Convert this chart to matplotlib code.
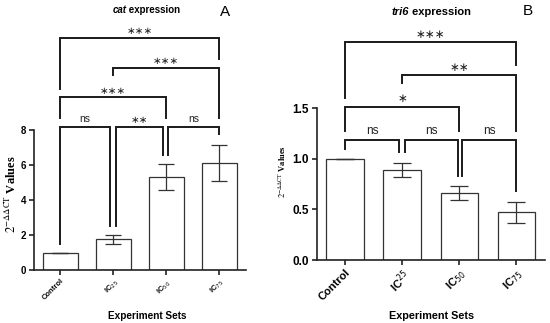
import numpy as np
import matplotlib
matplotlib.use('Agg')
import matplotlib.pyplot as plt

plt.rcParams['font.family'] = ['Liberation Sans', 'DejaVu Sans']

# --- data -------------------------------------------------------------
groups_a = ['Control', r'IC$_{25}$', r'IC$_{50}$', r'IC$_{75}$']
cat_mean = [1.0, 1.77, 5.30, 6.13]
cat_sem = [0.0, 0.26, 0.75, 1.05]

groups_b = ['Control', r'IC$^{25}$', r'IC$_{50}$', r'IC$_{75}$']
tri6_mean = [1.0, 0.89, 0.665, 0.47]
tri6_sem = [0.0, 0.073, 0.07, 0.10]

# comparisons: (left bar, right bar, label)
cmp_a = [(0, 1, 'ns'), (1, 2, '**'), (2, 3, 'ns'),
         (0, 2, '***'), (1, 3, '***'), (0, 3, '***')]
cmp_b = [(0, 1, 'ns'), (1, 2, 'ns'), (2, 3, 'ns'),
         (0, 2, '*'), (1, 3, '**'), (0, 3, '***')]

# bracket geometry (x0, x1, top, left foot, right foot) in data units
geom_a = [(-0.01, 0.94, 8.17, 1.49, 2.51),
          (1.05, 1.94, 8.17, 2.51, 6.57),
          (2.04, 2.99, 8.17, 6.57, 7.77),
          (-0.01, 2.00, 9.87, 8.69, 8.69),
          (1.00, 2.99, 11.58, 11.14, 8.69),
          (-0.01, 2.99, 13.27, 10.34, 12.06)]
geom_b = [(0.0, 0.94, 1.183, 1.10, 1.067),
          (1.05, 1.97, 1.183, 1.067, 0.83),
          (2.05, 3.0, 1.183, 0.83, 0.68),
          (0.0, 1.99, 1.514, 1.275, 1.275),
          (0.99, 3.0, 1.829, 1.75, 1.275),
          (0.0, 3.0, 2.154, 1.597, 1.93)]


def draw_brackets(ax, comps, geom, ns_size, star_size, ns_off, star_off):
    for (i, j, lab), (x0, x1, top, f0, f1) in zip(comps, geom):
        ax.plot([x0, x0, x1, x1], [f0, top, top, f1], color='#1a1a1a',
                lw=1.4, clip_on=False, solid_joinstyle='miter')
        xm = (x0 + x1) / 2
        if lab == 'ns':
            ax.text(xm, top + ns_off, lab, ha='center', va='bottom',
                    fontsize=ns_size, color='#222', clip_on=False)
        else:
            ax.text(xm, top + star_off, lab.replace('*', '\u2217'),
                    ha='center', va='bottom', fontsize=star_size,
                    family='DejaVu Sans', color='#222', clip_on=False)


def draw_panel(ax, labels, mean, sem, width, capsize, tick_size, lab_size):
    x = np.arange(len(labels))
    ax.bar(x, mean, width=width, color='white', edgecolor='#333333',
           linewidth=0.9, zorder=2)
    ax.errorbar(x, mean, yerr=sem, fmt='none', ecolor='#333333',
                elinewidth=0.9, capsize=capsize, capthick=0.9, zorder=3)
    ax.set_xlim(-0.5, 3.5)
    ax.set_xticks(x)
    ax.set_xticklabels(labels, rotation=45, ha='right',
                       rotation_mode='anchor', fontsize=tick_size,
                       fontweight='bold')
    for t in ax.get_xticklabels():
        t.set_math_fontfamily('dejavusans')
    for s in ['top', 'right']:
        ax.spines[s].set_visible(False)
    for s in ['left', 'bottom']:
        ax.spines[s].set_linewidth(1.2)
        ax.spines[s].set_color('#222')
    ax.tick_params(width=1.2, length=3.5, color='#222', pad=2)


fig = plt.figure(figsize=(5.5, 3.23), dpi=100)

ax_a = fig.add_axes([0.0618, 0.164, 0.385, 0.433])
draw_panel(ax_a, groups_a, cat_mean, cat_sem, 0.66, 5.5, 5.5, 7)
ax_a.set_ylim(0, 8)
ax_a.set_yticks([0, 2, 4, 6, 8])
ax_a.set_yticklabels(['0', '2', '4', '6', '8'], fontweight='bold', fontsize=7)
draw_brackets(ax_a, cmp_a, geom_a, 7.5, 7.5, 0.2, 0.1)

ax_b = fig.add_axes([0.5758, 0.195, 0.415, 0.4697])
draw_panel(ax_b, groups_b, tri6_mean, tri6_sem, 0.66, 6.5, 8, 8.5)
ax_b.set_ylim(0, 1.5)
ax_b.set_yticks([0, 0.5, 1.0, 1.5])
ax_b.set_yticklabels(['0.0', '0.5', '1.0', '1.5'], fontweight='bold', fontsize=8.5)
draw_brackets(ax_b, cmp_b, geom_b, 8.5, 8.5, 0.03, 0.015)

# axis labels
ylab = r'$2^{-\Delta\Delta \mathrm{CT}}$ Values'
fig.text(0.021, 0.40, ylab, rotation=90, ha='center', va='center',
         family='Liberation Serif', fontweight='bold', fontsize=9,
         math_fontfamily='stix')
fig.text(0.514, 0.47, ylab, rotation=90, ha='center', va='center',
         family='Liberation Serif', fontweight='bold', fontsize=6,
         math_fontfamily='stix')
fig.text(0.267, 0.022, 'Experiment Sets', ha='center', va='center',
         fontweight='bold', fontsize=7.2)
fig.text(0.785, 0.022, 'Experiment Sets', ha='center', va='center',
         fontweight='bold', fontsize=7.8)

# titles
fig.text(0.230, 0.970, 'cat', ha='right', va='center', style='italic',
         fontweight='bold', fontsize=7)
fig.text(0.230, 0.970, ' expression', ha='left', va='center',
         fontweight='bold', fontsize=7)
fig.text(0.409, 0.964, 'A', ha='center', va='center', fontsize=11)
fig.text(0.743, 0.964, 'tri6', ha='right', va='center', style='italic',
         fontweight='bold', fontsize=8)
fig.text(0.743, 0.964, ' expression', ha='left', va='center',
         fontweight='bold', fontsize=8)
fig.text(0.960, 0.967, 'B', ha='center', va='center', fontsize=11)

fig.savefig('out.png', dpi=100)
